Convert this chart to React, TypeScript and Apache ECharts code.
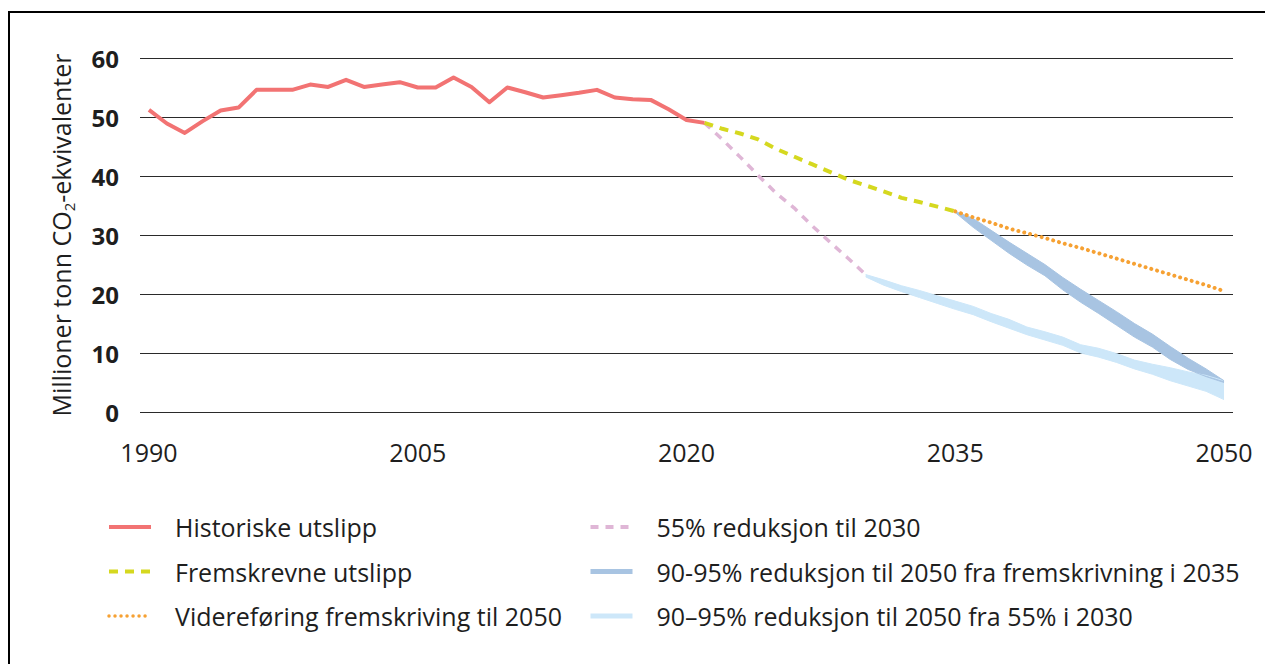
import React, { useEffect, useRef } from "react";
import * as echarts from "echarts";

// ---- categories (years on the x axis) ----
const years: string[] = [
  "1990","1991","1992","1993","1994","1995","1996","1997","1998","1999",
  "2000","2001","2002","2003","2004","2005","2006","2007","2008","2009",
  "2010","2011","2012","2013","2014","2015","2016","2017","2018","2019",
  "2020","2021","2022","2023","2024","2025","2026","2027","2028","2029",
  "2030","2031","2032","2033","2034","2035","2036","2037","2038","2039",
  "2040","2041","2042","2043","2044","2045","2046","2047","2048","2049",
  "2050",
];

// ---- series values (Mt CO2-eq) ----
// Historiske utslipp, 1990–2021
const historicStart = 1990;
const historic: number[] = [
  51.2, 48.9, 47.3, 49.3, 51.1, 51.6, 54.6, 54.6, 54.6, 55.5,
  55.1, 56.3, 55.1, 55.5, 55.9, 55.0, 55.0, 56.7, 55.1, 52.5,
  55.0, 54.2, 53.3, 53.7, 54.1, 54.6, 53.3, 53.0, 52.9, 51.3,
  49.5, 49.0,
];
// Fremskrevne utslipp, 2021–2035
const projectedStart = 2021;
const projected: number[] = [
  49.0, 48.0, 47.2, 46.2, 44.6, 43.3, 42.0, 40.7, 39.4, 38.4,
  37.4, 36.3, 35.6, 34.8, 34.0,
];
// 55% reduksjon til 2030, 2021–2030
const cut55Start = 2021;
const cut55: number[] = [49.0, 46.2, 43.2, 40.1, 37.1, 34.6, 31.6, 28.8, 26.1, 23.3];
// Videreføring fremskriving til 2050, 2035–2050
const continuationStart = 2035;
const continuation: number[] = [
  34.0, 33.0, 32.1, 31.1, 30.3, 29.5, 28.6, 27.8, 26.9, 26.0,
  25.1, 24.2, 23.3, 22.4, 21.5, 20.5,
];
// 90-95% reduksjon fra fremskrivning i 2035 (band), 2035–2050
const bandProjStart = 2035;
const bandProjUpper: number[] = [
  34.0, 32.8, 30.8, 28.8, 26.9, 25.0, 22.8, 20.8, 18.9, 17.0,
  15.0, 13.2, 11.1, 9.1, 7.3, 5.3,
];
const bandProjLower: number[] = [
  33.8, 31.3, 29.1, 26.9, 24.9, 23.1, 20.7, 18.6, 16.7, 14.7,
  12.7, 11.0, 8.9, 7.2, 6.0, 5.0,
];
// 90–95% reduksjon fra 55% i 2030 (band), 2030–2050
const band55Start = 2030;
const band55Upper: number[] = [
  23.3, 22.4, 21.4, 20.6, 19.7, 18.8, 17.9, 16.7, 15.7, 14.4,
  13.6, 12.7, 11.4, 10.8, 9.9, 8.8, 8.1, 7.5, 6.8, 6.2, 5.3,
];
const band55Lower: number[] = [
  22.9, 21.5, 20.4, 19.4, 18.4, 17.4, 16.5, 15.3, 14.2, 13.1,
  12.2, 11.3, 10.0, 9.3, 8.4, 7.3, 6.4, 5.3, 4.4, 3.5, 2.1,
];

// ---- names ----
const nHist = "Historiske utslipp";
const nProj = "Fremskrevne utslipp";
const nCont = "Videreføring fremskriving til 2050";
const n55 = "55% reduksjon til 2030";
const nBandProj = "90-95% reduksjon til 2050 fra fremskrivning i 2035";
const nBand55 = "90–95% reduksjon til 2050 fra 55% i 2030";

const FONT = "'Open Sans', 'Noto Sans', sans-serif";
const TEXT = "#1e1e1e";
const C_RED = "#f27373";
const C_YEL = "#d5d81f";
const C_ORA = "#f6a133";
const C_PINK = "#dfb6d6";
const C_DARK = "#a8c4e2";
const C_LIGHT = "#cde7f9";

function pad(start: number, values: number[]): (number | null)[] {
  return years.map((y) => {
    const i = Number(y) - start;
    return i >= 0 && i < values.length ? values[i] : null;
  });
}
function diff(a: number[], b: number[]): number[] {
  return a.map((v, i) => +(v - b[i]).toFixed(2));
}

const legendCommon = {
  orient: "vertical",
  top: 504,
  padding: 0,
  itemWidth: 42,
  itemHeight: 14,
  itemGap: 14.5,
  selectedMode: false,
  itemStyle: { opacity: 0, color: "rgba(0,0,0,0)", borderWidth: 0 },
  textStyle: {
    fontSize: 25,
    color: TEXT,
    fontFamily: FONT,
    lineHeight: 30,
    padding: [0, 0, 0, 19],
  },
};

export default function App() {
  const ref = useRef<HTMLDivElement>(null);
  useEffect(() => {
    if (!ref.current) return;
    const chart = echarts.init(ref.current, null, { renderer: "svg" });
    const option: any = {
      animation: false,
      textStyle: { fontFamily: FONT, color: TEXT },
      grid: { left: 132, top: 50, width: 1093, height: 354, containLabel: false },
      xAxis: {
        type: "category",
        data: years,
        boundaryGap: true,
        axisLine: { show: false },
        axisTick: { show: false },
        axisLabel: {
          interval: 14,
          margin: 27,
          fontSize: 25,
          color: TEXT,
          fontFamily: FONT,
        },
      },
      yAxis: {
        type: "value",
        min: 0,
        max: 60,
        interval: 10,
        axisLine: { show: false },
        axisTick: { show: false },
        axisLabel: {
          margin: 21,
          fontSize: 24,
          fontWeight: "bold",
          color: TEXT,
          fontFamily: FONT,
        },
        splitLine: { lineStyle: { color: "#2a2a2a", width: 1 } },
        name: "Millioner tonn CO{sub|2}-ekvivalenter",
        nameLocation: "middle",
        nameGap: 64,
        nameTextStyle: {
          fontSize: 25,
          color: TEXT,
          fontFamily: FONT,
          lineHeight: 30,
          rich: {
            sub: {
              fontSize: 15,
              lineHeight: 16,
              verticalAlign: "bottom",
              color: TEXT,
              fontFamily: FONT,
            },
          },
        },
      },
      legend: [
        {
          ...legendCommon,
          left: 99,
          data: [
            { name: nHist, lineStyle: { width: 4 } },
            { name: nProj, lineStyle: { width: 4 } },
            { name: nCont, lineStyle: { width: 3.5 } },
          ],
        },
        {
          ...legendCommon,
          left: 580,
          data: [
            { name: n55, lineStyle: { width: 4 } },
            { name: nBandProj, lineStyle: { color: C_DARK, width: 5, type: "solid", opacity: 1 } },
            { name: nBand55, lineStyle: { color: C_LIGHT, width: 5, type: "solid", opacity: 1 } },
          ],
        },
      ],
      series: [
        {
          name: "_band55Low",
          type: "line",
          stack: "band55",
          data: pad(band55Start, band55Lower),
          symbol: "none",
          lineStyle: { color: C_LIGHT, width: 1 },
          itemStyle: { color: C_LIGHT },
          silent: true,
        },
        {
          name: nBand55,
          type: "line",
          stack: "band55",
          data: pad(band55Start, diff(band55Upper, band55Lower)),
          symbol: "none",
          lineStyle: { color: C_LIGHT, width: 1 },
          itemStyle: { color: C_LIGHT },
          areaStyle: { color: C_LIGHT, opacity: 1 },
          silent: true,
        },
        {
          name: "_bandProjLow",
          type: "line",
          stack: "bandProj",
          data: pad(bandProjStart, bandProjLower),
          symbol: "none",
          lineStyle: { color: C_DARK, width: 1 },
          itemStyle: { color: C_DARK },
          silent: true,
        },
        {
          name: nBandProj,
          type: "line",
          stack: "bandProj",
          data: pad(bandProjStart, diff(bandProjUpper, bandProjLower)),
          symbol: "none",
          lineStyle: { color: C_DARK, width: 1 },
          itemStyle: { color: C_DARK },
          areaStyle: { color: C_DARK, opacity: 1 },
          silent: true,
        },
        {
          name: n55,
          type: "line",
          data: pad(cut55Start, cut55),
          symbol: "none",
          itemStyle: { color: C_PINK },
          lineStyle: { color: C_PINK, width: 3.5, type: [8, 7] },
        },
        {
          name: nCont,
          type: "line",
          data: pad(continuationStart, continuation),
          symbol: "none",
          itemStyle: { color: C_ORA },
          lineStyle: { color: C_ORA, width: 4, type: [0.01, 6], cap: "round" },
        },
        {
          name: nProj,
          type: "line",
          data: pad(projectedStart, projected),
          symbol: "none",
          itemStyle: { color: C_YEL },
          lineStyle: { color: C_YEL, width: 4, type: [9, 7] },
        },
        {
          name: nHist,
          type: "line",
          data: pad(historicStart, historic),
          symbol: "none",
          itemStyle: { color: C_RED },
          lineStyle: { color: C_RED, width: 4, join: "round" },
        },
      ],
    };
    chart.setOption(option);
    return () => chart.dispose();
  }, []);

  return (
    <div style={{ position: "relative", width: 1265, height: 656 }}>
      <div
        style={{
          position: "absolute",
          top: 3,
          left: 0,
          right: 0,
          bottom: 0,
          borderTop: "2px solid #000",
          borderLeft: "2px solid #000",
          pointerEvents: "none",
        }}
      />
      <div ref={ref} style={{ position: "absolute", top: 0, left: 0, width: 1265, height: 656 }} />
    </div>
  );
}
